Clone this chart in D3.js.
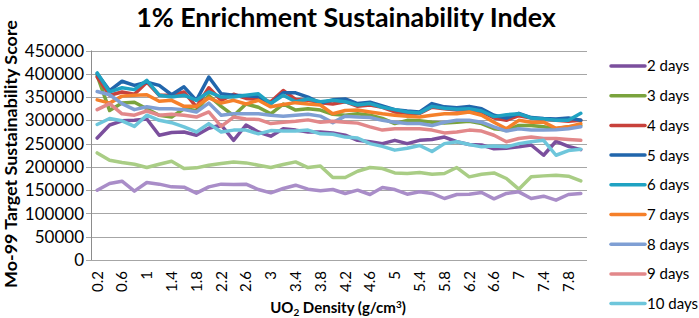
<!DOCTYPE html>
<html><head><meta charset="utf-8">
<script src="https://cdn.jsdelivr.net/npm/d3@7"></script>
<style>
body{margin:0;background:#fff;}
svg{display:block;font-family:Lato,"Open Sans",sans-serif;}
</style></head>
<body>
<svg id="chart" width="699" height="318"></svg>
<script>
const title = "1% Enrichment Sustainability Index";
const yTitle = "Mo-99 Target Sustainability Score";
const densities = d3.range(40).map(i => +(0.2 + 0.2*i).toFixed(1));
const yTicks = [0,50000,100000,150000,200000,250000,300000,350000,400000,450000];
const seriesNames = ["2 days","3 days","4 days","5 days","6 days","7 days","8 days","9 days","10 days","11 days","12 days"];
const legendNames = ["2 days","3 days","4 days","5 days","6 days","7 days","8 days","9 days","10 days"];
const colors = ["#7b4f9d","#7aa33d","#c8413b","#2166ac","#1fa2c2","#f5802a","#7f9fd4","#e2888a","#6ec6db","#a9cd85","#a98dc8"];

const days2  = [262000,290000,299000,300000,303000,268000,274000,275000,268000,283000,290000,257000,290000,275000,266000,282000,279000,275000,275000,273000,268000,257000,254000,250000,257000,250000,257000,259000,264000,254000,248000,247000,239000,240000,243000,247000,225000,255000,244000,237000];
const days3  = [396000,321000,337000,339000,325000,311000,307000,325000,321000,353000,330000,310000,335000,328000,314000,335000,322000,325000,322000,313000,311000,314000,311000,304000,293000,300000,299000,296000,294000,296000,298000,293000,282000,279000,289000,289000,286000,282000,286000,289000];
const days4  = [393000,354000,361000,356000,382000,354000,354000,361000,329000,370000,343000,356000,347000,345000,340000,364000,345000,343000,338000,335000,340000,330000,333000,328000,318000,315000,315000,328000,325000,322000,322000,318000,305000,300000,310000,305000,302000,300000,298000,300000];
const days5  = [400000,364000,384000,375000,382000,375000,355000,372000,343000,393000,357000,354000,353000,351000,336000,359000,359000,350000,337000,344000,346000,336000,339000,331000,323000,320000,318000,336000,329000,327000,330000,325000,311000,305000,315000,306000,304000,303000,305000,300000];
const days6  = [402000,361000,370000,366000,386000,354000,350000,354000,343000,361000,350000,350000,354000,357000,336000,354000,340000,346000,340000,343000,340000,333000,336000,328000,323000,318000,316000,330000,326000,324000,325000,320000,308000,312000,314000,305000,303000,300000,300000,315000];
const days7  = [344000,337000,352000,354000,355000,341000,343000,330000,330000,348000,337000,343000,335000,343000,329000,334000,338000,335000,333000,314000,321000,322000,318000,314000,311000,309000,307000,311000,314000,314000,318000,311000,296000,282000,300000,296000,296000,283000,286000,293000];
const days8  = [362000,355000,336000,323000,329000,325000,325000,323000,318000,337000,311000,314000,314000,314000,311000,309000,311000,313000,309000,295000,309000,307000,306000,300000,296000,293000,293000,289000,296000,300000,300000,296000,286000,277000,282000,279000,279000,280000,282000,286000];
const days9  = [323000,336000,314000,311000,320000,311000,313000,311000,307000,318000,287000,307000,303000,302000,293000,296000,298000,301000,296000,298000,296000,294000,286000,279000,282000,282000,282000,279000,273000,275000,279000,277000,268000,254000,261000,264000,261000,261000,259000,257000];
const days10 = [291000,304000,299000,287000,311000,300000,295000,286000,275000,293000,275000,279000,279000,271000,278000,277000,277000,279000,271000,270000,264000,262000,250000,244000,236000,240000,246000,233000,250000,254000,248000,243000,245000,243000,250000,254000,257000,225000,235000,238000];
const days11 = [230000,214300,209300,205700,198600,205700,212100,196400,197900,203600,207100,210700,208600,203600,198600,205000,210700,198600,202100,177100,177100,190700,198600,196400,187100,185700,187900,184300,185700,198600,178600,184300,187100,175000,152100,178600,180700,182100,180000,170000];
const days12 = [150000,164300,169300,147900,166400,162900,157100,156400,143600,157100,162900,162100,162900,151400,144300,153600,160700,152100,148600,151400,142900,150000,140700,155700,151400,141400,146400,142900,132100,140700,141400,145000,131400,142900,146400,132100,137100,128600,140700,143000];
const seriesValues = [days2,days3,days4,days5,days6,days7,days8,days9,days10,days11,days12];

const svg = d3.select("#chart");
const m = {left:91, right:587, top:50.5, bottom:260};

const x = d3.scaleBand().domain(densities).range([m.left, m.right]);
const y = d3.scaleLinear().domain([0,450000]).range([m.bottom, m.top]);

// gridlines + y ticks
svg.append("g").selectAll("line").data(yTicks).join("line")
  .attr("x1", m.left-5).attr("x2", m.right)
  .attr("y1", d=>Math.round(y(d))+0.5).attr("y2", d=>Math.round(y(d))+0.5)
  .attr("stroke", "#a6a6a6").attr("stroke-width", 1);

// y axis line
svg.append("line").attr("x1", m.left+0.5).attr("x2", m.left+0.5)
  .attr("y1", m.top).attr("y2", m.bottom).attr("stroke","#8c8c8c");

// y tick labels
svg.append("g").selectAll("text").data(yTicks).join("text")
  .attr("x", 84).attr("y", d=>y(d)).attr("dy","0.36em")
  .attr("text-anchor","end").attr("font-size", 17).attr("fill","#000")
  .text(d=>d);

// x tick labels
const xLabelData = densities.filter((d,i)=>i%2===0);
svg.append("g").selectAll("text").data(xLabelData).join("text")
  .attr("transform", d=>`translate(${x(d)+x.bandwidth()/2},271) rotate(-90)`)
  .attr("text-anchor","end").attr("dy","0.36em").attr("font-size",15).attr("fill","#000")
  .text(d=>String(d));

// lines
const line = d3.line().x((d,i)=>x(densities[i])+x.bandwidth()/2).y(d=>y(d));
svg.append("g").selectAll("path").data(seriesValues).join("path")
  .attr("d", d=>line(d)).attr("fill","none")
  .attr("stroke",(d,i)=>colors[i]).attr("stroke-width",3.5)
  .attr("stroke-linejoin","round").attr("stroke-linecap","round");

// title
const t = svg.append("text").attr("x",346).attr("y",27).attr("text-anchor","middle")
  .attr("font-weight","bold").attr("font-size",24).text(title);
function fit(sel, w){ const cur = sel.node().getComputedTextLength(); const fs = +sel.attr("font-size"); sel.attr("font-size", fs*w/cur); }
fit(t, 420);

// x title
const xt = svg.append("text").attr("x",338).attr("y",313).attr("text-anchor","middle")
  .attr("font-weight","bold").attr("font-size",15);
xt.append("tspan").text("UO");
xt.append("tspan").attr("font-size",10).attr("dy",3).text("2");
xt.append("tspan").attr("dy",-3).text(" Density (g/cm");
xt.append("tspan").attr("font-size",10).attr("dy",-5).text("3");
xt.append("tspan").attr("dy",5).text(")");

// y title
const yt = svg.append("text").attr("transform","translate(17,154) rotate(-90)")
  .attr("text-anchor","middle").attr("font-weight","bold").attr("font-size",16).text(yTitle);
fit(yt, 268);

// legend
const lg = svg.append("g").selectAll("g").data(legendNames).join("g")
  .attr("transform",(d,i)=>`translate(0,${66+29.7*i})`);
lg.append("line").attr("x1",611).attr("x2",645).attr("y1",0).attr("y2",0)
  .attr("stroke",(d,i)=>colors[i]).attr("stroke-width",3.5).attr("stroke-linecap","round");
lg.append("text").attr("x",647).attr("y",0).attr("dy","0.36em").attr("font-size",15).text(d=>d);
</script>
</body></html>
